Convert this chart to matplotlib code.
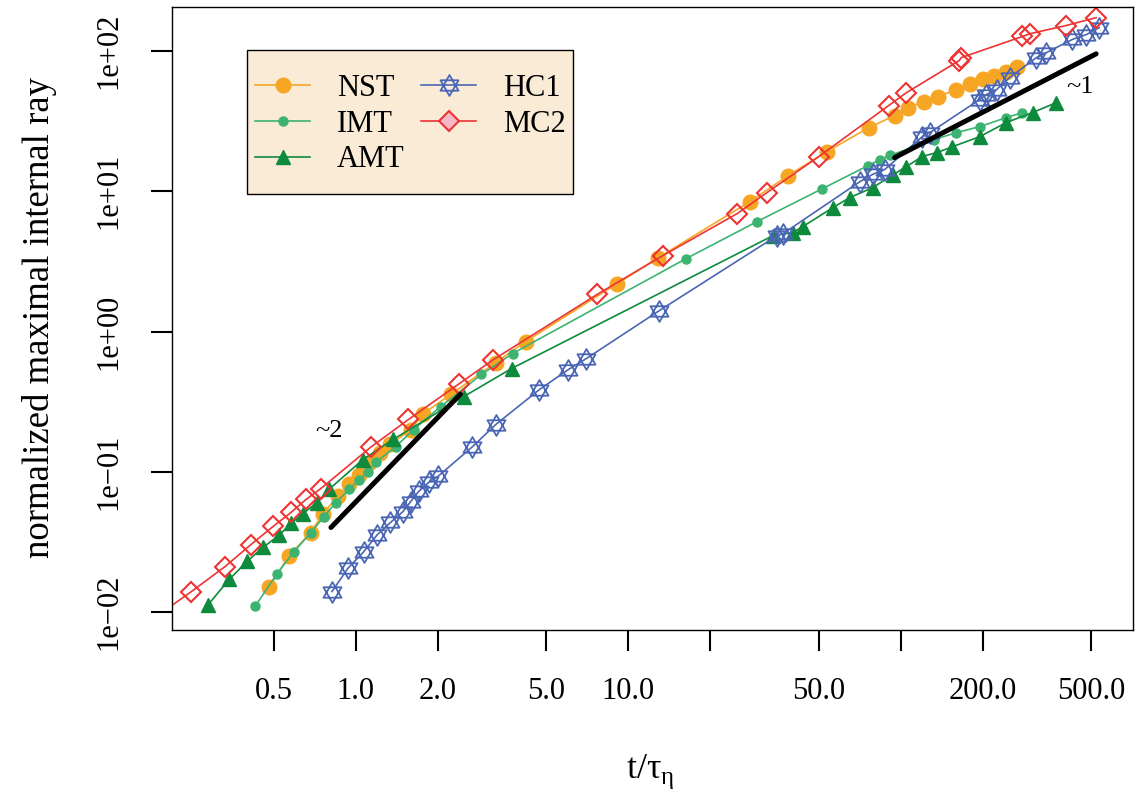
import numpy as np
import matplotlib
matplotlib.use("Agg")
import matplotlib.pyplot as plt
from matplotlib.path import Path
from matplotlib.patches import Rectangle

plt.rcParams['font.family'] = ['Liberation Serif', 'DejaVu Serif']
plt.rcParams['mathtext.fontset'] = 'custom'
plt.rcParams['mathtext.rm'] = 'Liberation Serif'

# NST
nst_t = [0.480, 0.569, 0.684, 0.757, 0.859, 0.943, 1.03, 1.12, 1.23, 1.34, 1.59, 1.77, 2.23,
         3.26, 4.20, 9.12, 12.9, 28.0, 38.5, 53.6, 76.4, 95.0, 106, 122, 137, 160, 179, 200,
         221, 244, 268]
nst_r = [0.0150, 0.0253, 0.0369, 0.0504, 0.0667, 0.0812, 0.0941, 0.115, 0.137, 0.157, 0.200,
         0.260, 0.356, 0.601, 0.849, 2.20, 3.37, 8.45, 12.9, 19.2, 28.4, 34.7, 39.5, 43.6, 47.3,
         53.1, 58.6, 63.6, 66.8, 71.3, 77.4]

# IMT
imt_t = [0.427, 0.514, 0.593, 0.684, 0.764, 0.845, 0.943, 1.03, 1.11, 1.19, 1.40, 1.63, 2.05,
         2.89, 3.76, 16.3, 29.7, 51.4, 75.7, 83.8, 91.2, 133, 160, 195, 244, 280]
imt_r = [0.0110, 0.0188, 0.0270, 0.0369, 0.0480, 0.0604, 0.0748, 0.0881, 0.100, 0.118, 0.151,
         0.200, 0.292, 0.494, 0.697, 3.31, 6.08, 10.4, 15.2, 16.8, 18.0, 23.4, 26.2, 28.9, 33.5,
         36.4]

# AMT
amt_t = [0.287, 0.343, 0.399, 0.456, 0.522, 0.578, 0.640, 0.720, 0.796, 1.06, 1.37, 2.49, 3.73,
         34.0, 40.2, 43.7, 56.4, 65.0, 78.9, 93.5, 105, 120, 136, 155, 195, 244, 305, 373]
amt_r = [0.0113, 0.0171, 0.0230, 0.0289, 0.0352, 0.0428, 0.0504, 0.0604, 0.0748, 0.122, 0.170,
         0.344, 0.545, 4.83, 5.08, 5.60, 7.65, 9.02, 10.6, 13.1, 15.0, 17.7, 18.9, 20.8, 24.5,
         30.9, 36.4, 42.9]

# HC1
hc1_t = [0.817, 0.935, 1.07, 1.20, 1.34, 1.49, 1.59, 1.70, 1.85, 2.00, 2.68, 3.26, 4.72, 6.03,
         7.02, 13.0, 35.2, 37.0, 70.8, 78.9, 87.4, 120, 128, 195, 206, 225, 251, 315, 343, 427,
         480, 536]
hc1_r = [0.0140, 0.0205, 0.0270, 0.0357, 0.0435, 0.0521, 0.0614, 0.0724, 0.0839, 0.0926, 0.151,
         0.217, 0.386, 0.536, 0.642, 1.41, 4.83, 4.99, 11.7, 13.2, 14.3, 24.5, 26.2, 45.1, 48.9,
         53.1, 64.6, 89.8, 97.5, 121, 131, 147]

# MC2 (first value only continues the line to the left edge)
mc2_t = [0.205, 0.249, 0.331, 0.412, 0.497, 0.578, 0.656, 0.744, 1.14, 1.56, 2.40, 3.20, 7.69,
         13.4, 25.1, 32.3, 50.1, 90.3, 105, 164, 167, 280, 299, 405, 522]
mc2_r = [0.0107, 0.0140, 0.0211, 0.0303, 0.0408, 0.0513, 0.0635, 0.0760, 0.151, 0.236, 0.426,
         0.631, 1.84, 3.48, 6.93, 9.79, 17.7, 40.8, 50.5, 85.4, 89.8, 127, 133, 152, 173]

# reference slopes
slope2_t = [0.81, 2.42]
slope1_t = [95.0, 522.0]

xticks = [0.5, 1, 2, 5, 10, 20, 50, 100, 200, 500]
xticklabels = ['0.5', '1.0', '2.0', '5.0', '10.0', '', '50.0', '', '200.0', '500.0']
yticks = [1e-2, 1e-1, 1e0, 1e1, 1e2]
yticklabels = ['1e\u221202', '1e\u221201', '1e+00', '1e+01', '1e+02']

# star of David marker
star_verts = [(0, 1), (0.866, -0.5), (-0.866, -0.5), (0, 1),
              (0, -1), (0.866, 0.5), (-0.866, 0.5), (0, -1)]
star_codes = [Path.MOVETO, Path.LINETO, Path.LINETO, Path.CLOSEPOLY] * 2
star = Path(star_verts, star_codes)

W, H = 1135, 792
fig = plt.figure(figsize=(W / 100, H / 100), dpi=100)
ax = fig.add_axes([172 / W, 1 - 630 / H, 961 / W, 623 / H])

ax.plot(nst_t, nst_r, color='#F6A623', lw=1.2, marker='o', ms=10.5, mec='#F6A623',
        label='NST')
ax.plot(imt_t, imt_r, color='#3CB371', lw=1.2, marker='o', ms=6.5, mec='#3CB371',
        label='IMT')
ax.plot(amt_t, amt_r, color='#0E8A3C', lw=1.2, marker='^', ms=10, mec='#0E8A3C',
        label='AMT')
ax.plot(hc1_t, hc1_r, color='#4A66B4', lw=1.2, marker=star, ms=15, mfc='none',
        mec='#4A66B4', mew=1.3, label='HC1')
ax.plot(mc2_t, mc2_r, color='#EE3333', lw=1.2, marker='D', ms=10, mfc='none',
        mec='#EE3333', mew=1.5, markevery=list(range(1, len(mc2_t))), label='MC2')

t2 = np.array(slope2_t)
ax.plot(t2, 0.0611 * t2 ** 2, color='black', lw=3.6, solid_capstyle='round')
t1 = np.array(slope1_t)
ax.plot(t1, 0.183 * t1, color='black', lw=3.6, solid_capstyle='round')
ax.text(0.80, 0.194, '~2', fontsize=19, ha='center', va='center')
ax.text(455, 55, '~1', fontsize=19, ha='center', va='center')

ax.set_xscale('log')
ax.set_yscale('log')
ax.set_xlim(10 ** -0.675, 10 ** 2.853)
ax.set_ylim(10 ** -2.128, 10 ** 2.314)
ax.set_xticks(xticks)
ax.set_xticklabels(xticklabels)
ax.set_yticks(yticks)
ax.set_yticklabels(yticklabels)
ax.minorticks_off()
ax.tick_params(axis='both', length=15, width=1.5, labelsize=22)
ax.tick_params(axis='x', pad=19)
ax.tick_params(axis='y', pad=20)
for lab in ax.get_yticklabels():
    lab.set_rotation(90)
    lab.set_va('center')
for sp in ax.spines.values():
    sp.set_linewidth(1.0)

fig.text(650 / W, 1 - 778 / H, 't/τ$_{\\mathrm{η}}$', fontsize=26, ha='center',
         va='baseline')
fig.text(40 / W, 1 - 318 / H, 'normalized maximal internal ray', fontsize=26.5,
         rotation=90, ha='center', va='center')

# legend frame drawn by hand, entries placed inside it
frame = Rectangle((247 / W, 1 - 194 / H), 326 / W, 144 / H, transform=fig.transFigure,
                  facecolor='#FAEBD7', edgecolor='black', lw=1.0, zorder=4,
                  clip_on=False)
ax.add_patch(frame)
h, l = ax.get_legend_handles_labels()
leg = ax.legend(h, l, ncol=2, loc='upper left', bbox_to_anchor=(255 / W, 1 - 74 / H),
                bbox_transform=fig.transFigure, borderaxespad=0, borderpad=0,
                fontsize=22, frameon=False, handlelength=1.8, handletextpad=0.88,
                columnspacing=0.55, labelspacing=0.22)
leg.set_zorder(5)
leg.legend_handles[4].set_markerfacecolor('#F5B7C5')

fig.savefig('out.png', dpi=100)
